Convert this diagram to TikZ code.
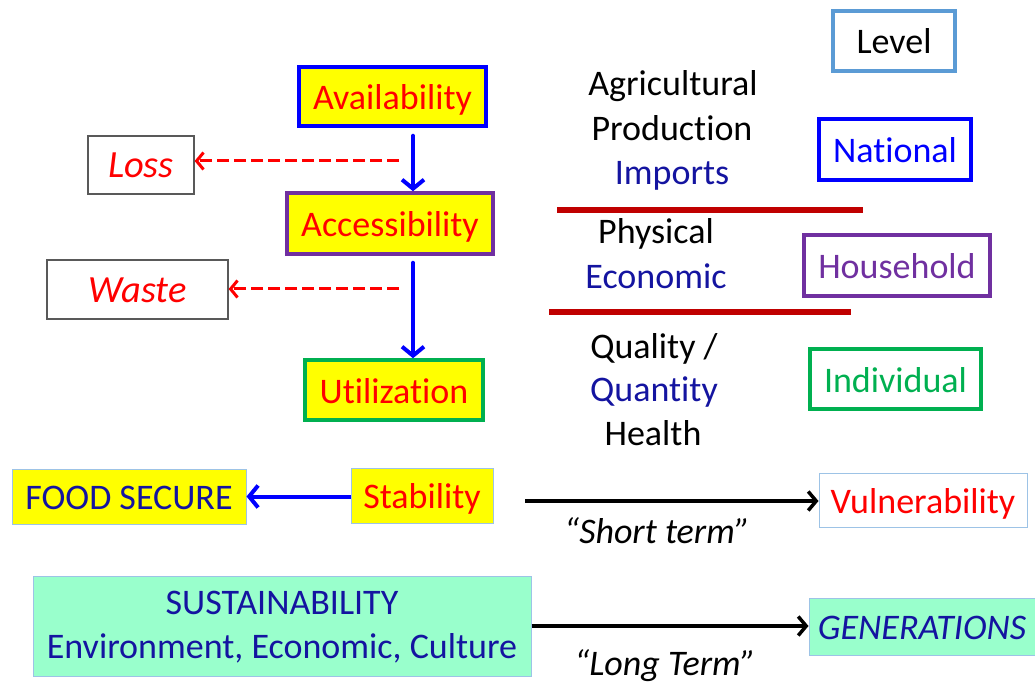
\documentclass[tikz,border=0pt]{standalone}
\usepackage{fontspec}
\setmainfont{Carlito}[Ligatures=NoCommon]
\usetikzlibrary{arrows.meta}
\definecolor{fillyellow}{HTML}{FFFF00}
\definecolor{textred}{HTML}{FF0000}
\definecolor{pureblue}{HTML}{0000FF}
\definecolor{levelpurple}{HTML}{7030A0}
\definecolor{levelgreen}{HTML}{00B050}
\definecolor{skyblue}{HTML}{5B9BD5}
\definecolor{navytext}{HTML}{1414A0}
\definecolor{aqua}{HTML}{99FFCC}
\definecolor{darkred}{HTML}{C00000}
\definecolor{boxgray}{HTML}{595959}
\definecolor{paleedge}{HTML}{9DC3E6}
\begin{document}
\begin{tikzpicture}[x=1pt,y=-1pt,
  every node/.style={font=\fontsize{36}{44}\selectfont, inner sep=0pt, text height=30pt, text depth=4pt},
  keybox/.style={draw=#1, line width=3.5pt, fill=fillyellow, text=textred},
  lvlbox/.style={draw=#1, line width=3.5pt, text=#1},
  sidebox/.style={draw=boxgray, line width=1.2pt, fill=white, text=textred, font=\fontsize{38.5}{46}\selectfont\itshape},
  thinbox/.style={draw=paleedge, line width=1pt, fill=#1},
  flowarrow/.style={draw=pureblue, line width=4pt, line cap=round, -{Straight Barb[length=9pt,width=22pt,line width=4pt]}},
  lossarrow/.style={draw=textred, line width=3pt, dash pattern=on 12pt off 5pt, -{Straight Barb[length=7pt,width=17pt,line width=3pt]}},
  termarrow/.style={draw=black, line width=3.5pt, -{Straight Barb[length=8pt,width=19pt,line width=3.5pt]}},
  divider/.style={draw=darkred, line width=6pt},
  colitem/.style={anchor=center}]
\useasboundingbox (0,0) rectangle (1035,684);

% main chain
\node[keybox=pureblue, minimum width=187pt, minimum height=59pt] (avail) at (392.5,96.5) {Availability};
\node[keybox=levelpurple, minimum width=206pt, minimum height=61pt] (access) at (390,223.5) {Accessibility};
\node[keybox=levelgreen, minimum width=178pt, minimum height=60pt] (util) at (394,390) {Utilization};

% side losses
\node[sidebox, minimum width=106pt, minimum height=58pt] (loss) at (141,165) {Loss};
\node[sidebox, minimum width=181pt, minimum height=59pt] (waste) at (137.5,289.5) {Waste};

\coordinate (flow) at (413,0);
\coordinate (lossstart) at (399,161);
\coordinate (wastestart) at (399,289);
\draw[flowarrow, shorten <=8pt] (avail.south -| flow) -- (access.north -| flow);
\draw[flowarrow, shorten <=7pt] (access.south -| flow) -- (util.north -| flow);
\draw[lossarrow] (lossstart) -- (lossstart -| loss.east);
\draw[lossarrow] (wastestart) -- (wastestart -| waste.east);

% middle column
\node[colitem] (agri) at (673,83) {Agricultural};
\node[colitem] (prod) at (672,128) {Production};
\node[colitem, text=navytext] (imports) at (672,172) {Imports};
\coordinate (div1l) at (557,210);
\coordinate (div1r) at (863,210);
\draw[divider] (div1l) -- (div1r);
\node[colitem] (phys) at (656,231) {Physical};
\node[colitem, text=navytext] (econ) at (656,276) {Economic};
\coordinate (div2l) at (549,312);
\coordinate (div2r) at (851,312);
\draw[divider] (div2l) -- (div2r);
\node[colitem] (quality) at (654,345) {Quality /};
\node[colitem, text=navytext] (quantity) at (654,388) {Quantity};
\node[colitem] (health) at (653,432) {Health};

% levels
\node[lvlbox=skyblue, text=black, minimum width=122pt, minimum height=60pt] (level) at (894,41) {Level};
\node[lvlbox=pureblue, minimum width=152pt, minimum height=61pt] (national) at (895,149.5) {National};
\node[lvlbox=levelpurple, minimum width=186pt, minimum height=61pt] (household) at (897,265.5) {Household};
\node[lvlbox=levelgreen, minimum width=171pt, minimum height=60pt] (individual) at (895.5,379) {Individual};

% stability row
\node[thinbox=fillyellow, text=navytext, minimum width=234pt, minimum height=55pt] (secure) at (129,496.5) {FOOD SECURE};
\node[thinbox=fillyellow, text=textred, minimum width=142pt, minimum height=55pt] (stab) at (422,495.5) {Stability};
\node[thinbox=white, text=textred, minimum width=208pt, minimum height=54pt] (vuln) at (923,500) {Vulnerability};
\draw[flowarrow, line cap=butt] (stab.west |- secure.east) -- (secure.east);
\coordinate (shortstart) at (525,501);
\draw[termarrow] (shortstart) -- (shortstart -| vuln.west);
\node[font=\fontsize{36}{44}\selectfont\itshape] (shortlbl) at (657,530) {“Short term”};

% sustainability row
\node[thinbox=aqua, text=navytext, minimum width=498pt, minimum height=100pt, align=center, text height=68pt, text depth=4pt] (sustain) at (282,626) {SUSTAINABILITY\\Environment, Economic, Culture};
\node[thinbox=aqua, text=navytext, minimum width=226pt, minimum height=57pt, font=\fontsize{36}{44}\selectfont\itshape] (gen) at (922,626.5) {GENERATIONS};
\draw[termarrow] (sustain.east) -- (sustain.east -| gen.west);
\node[font=\fontsize{36}{44}\selectfont\itshape] (longlbl) at (665,662) {“Long Term”};
\end{tikzpicture}
\end{document}
